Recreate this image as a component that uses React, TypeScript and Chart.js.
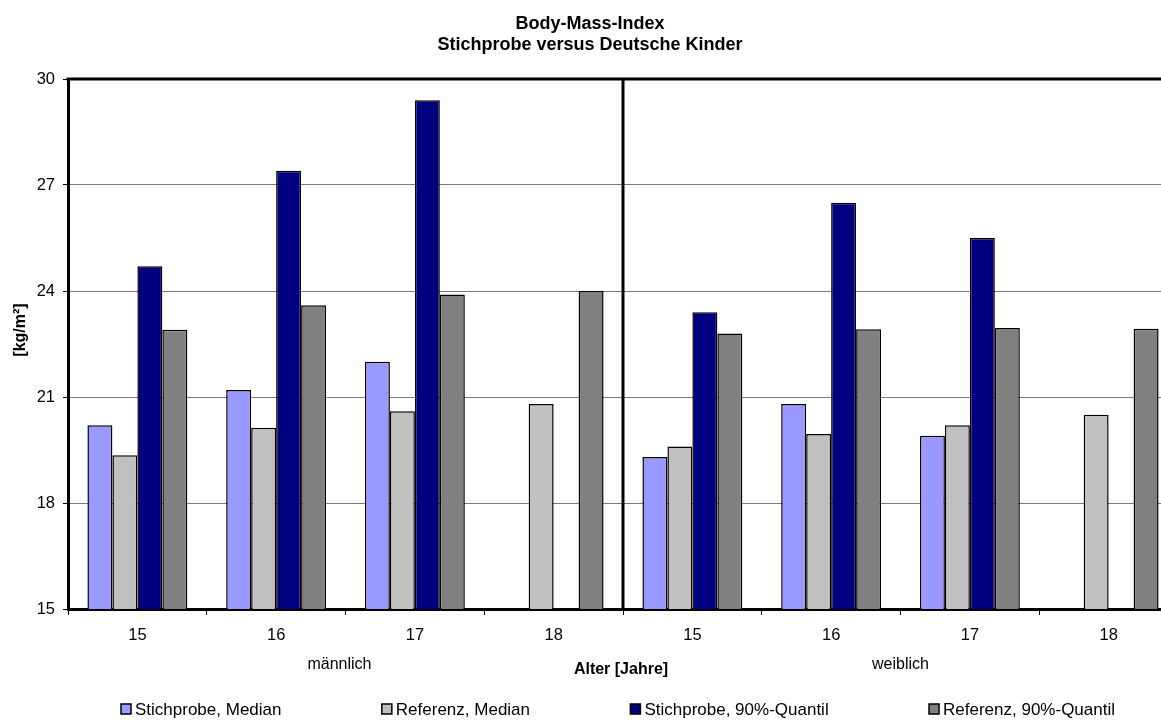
import React, { useEffect, useRef } from "react";
import { Chart, registerables } from "chart.js";

Chart.register(...registerables);

const categories = ["15", "16", "17", "18", "15", "16", "17", "18"];
const groups = ["männlich", "weiblich"];
const seriesNames = [
  "Stichprobe, Median",
  "Referenz, Median",
  "Stichprobe, 90%-Quantil",
  "Referenz, 90%-Quantil",
];
const stichprobeMedian = [20.2, 21.2, 22.0, null, 19.3, 20.8, 19.9, null];
const referenzMedian = [19.35, 20.13, 20.6, 20.8, 19.6, 19.95, 20.2, 20.5];
const stichprobe90 = [24.7, 27.4, 29.4, null, 23.4, 26.5, 25.5, null];
const referenz90 = [22.9, 23.6, 23.9, 24.0, 22.8, 22.92, 22.95, 22.93];
const yTicks = [15, 18, 21, 24, 27, 30];
const titleLines = ["Body-Mass-Index", "Stichprobe versus Deutsche Kinder"];
const yTitle = "[kg/m²]";
const xTitle = "Alter [Jahre]";

const seriesColors = ["#9999FF", "#C0C0C0", "#000080", "#808080"];
const FONT = "'Liberation Sans', Arial, Helvetica, sans-serif";

const decorPlugin = {
  id: "decor",
  afterDatasetsDraw(chart: any) {
    const { ctx, chartArea } = chart;
    const x = chart.scales.x;
    ctx.save();
    ctx.strokeStyle = "#000";
    ctx.lineWidth = 3;
    // top + right frame
    ctx.beginPath();
    ctx.moveTo(chartArea.left - 1.5, chartArea.top);
    ctx.lineTo(chartArea.right, chartArea.top);
    ctx.lineTo(chartArea.right, chartArea.bottom);
    ctx.stroke();
    // divider between groups
    const mid = (x.getPixelForValue(3) + x.getPixelForValue(4)) / 2;
    ctx.beginPath();
    ctx.moveTo(mid, chartArea.top);
    ctx.lineTo(mid, chartArea.bottom);
    ctx.stroke();
    ctx.restore();
  },
  afterDraw(chart: any) {
    const { ctx, chartArea } = chart;
    const x = chart.scales.x;
    ctx.save();
    ctx.fillStyle = "#000";
    ctx.textAlign = "center";
    ctx.textBaseline = "middle";

    // title
    ctx.font = `bold 18px ${FONT}`;
    ctx.fillText(titleLines[0], 590, 24);
    ctx.fillText(titleLines[1], 590, 45);

    // y title
    ctx.save();
    ctx.translate(21, 330);
    ctx.rotate(-Math.PI / 2);
    ctx.font = `bold 16px ${FONT}`;
    ctx.fillText(yTitle, 0, 0);
    ctx.restore();

    // group labels
    ctx.font = `16px ${FONT}`;
    groups.forEach((g, i) => {
      const cx =
        (x.getPixelForValue(i * 4 + 1) + x.getPixelForValue(i * 4 + 2)) / 2;
      ctx.fillText(g, cx - (i === 0 ? 6 : 0), 665);
    });

    // x title
    ctx.font = `bold 16px ${FONT}`;
    ctx.fillText(xTitle, (chartArea.left + chartArea.right) / 2 - 2, 670);

    // legend
    ctx.font = `17px ${FONT}`;
    const box = 10;
    const gapBox = 4;
    const widths = seriesNames.map(
      (n) => box + gapBox + ctx.measureText(n).width
    );
    const startX = 121;
    const endX = 1115;
    const total = widths.reduce((a, b) => a + b, 0);
    const gap = (endX - startX - total) / (seriesNames.length - 1);
    let lx = startX;
    const ly = 709;
    ctx.textAlign = "left";
    seriesNames.forEach((n, i) => {
      ctx.fillStyle = seriesColors[i];
      ctx.fillRect(lx, ly - box / 2, box, box);
      ctx.strokeStyle = "#000";
      ctx.lineWidth = 1.5;
      ctx.strokeRect(lx, ly - box / 2, box, box);
      ctx.fillStyle = "#000";
      ctx.fillText(n, lx + box + gapBox, ly + 1);
      lx += widths[i] + gap;
    });
    ctx.restore();
  },
};

export default function App() {
  const canvasRef = useRef<HTMLCanvasElement | null>(null);

  useEffect(() => {
    if (!canvasRef.current) return;
    const dataSets = [stichprobeMedian, referenzMedian, stichprobe90, referenz90];
    const chart = new Chart(canvasRef.current, {
      type: "bar",
      data: {
        labels: categories,
        datasets: dataSets.map((d, i) => ({
          label: seriesNames[i],
          data: d,
          backgroundColor: seriesColors[i],
          borderColor: "#000",
          borderWidth: 1.5,
          categoryPercentage: 0.72,
          barPercentage: 1.0,
        })),
      },
      options: {
        responsive: false,
        animation: false,
        devicePixelRatio: 1,
        layout: { padding: { top: 79, right: 22, left: 0, bottom: 0 } },
        plugins: {
          legend: { display: false },
          title: { display: false },
          tooltip: { enabled: false },
        },
        scales: {
          x: {
            type: "category",
            offset: true,
            grid: {
              offset: true,
              drawOnChartArea: false,
              drawTicks: true,
              tickLength: 6,
              tickColor: "#000",
              lineWidth: 1,
            },
            border: { display: true, color: "#000", width: 3 },
            ticks: {
              color: "#000",
              font: { family: FONT, size: 16.5 },
              padding: 11,
              maxRotation: 0,
              autoSkip: false,
            },
            afterFit: (s: any) => {
              s.height = 111;
            },
          },
          y: {
            min: 15,
            max: 30,
            afterBuildTicks: (s: any) => {
              s.ticks = yTicks.map((v) => ({ value: v }));
            },
            grid: {
              color: "#7a7a7a",
              lineWidth: 1,
              tickLength: 5,
              tickColor: "#000",
              drawTicks: true,
            },
            border: { display: true, color: "#000", width: 3 },
            ticks: {
              color: "#000",
              font: { family: FONT, size: 16.5 },
              padding: 8,
            },
            afterFit: (s: any) => {
              s.width = 68;
            },
          },
        },
      },
      plugins: [decorPlugin],
    });
    return () => chart.destroy();
  }, []);

  return (
    <div
      style={{
        position: "absolute",
        left: 0,
        top: 0,
        width: 1161,
        height: 720,
        overflow: "hidden",
        background: "#fff",
      }}
    >
      <canvas ref={canvasRef} width={1200} height={720} style={{ display: "block" }} />
    </div>
  );
}
